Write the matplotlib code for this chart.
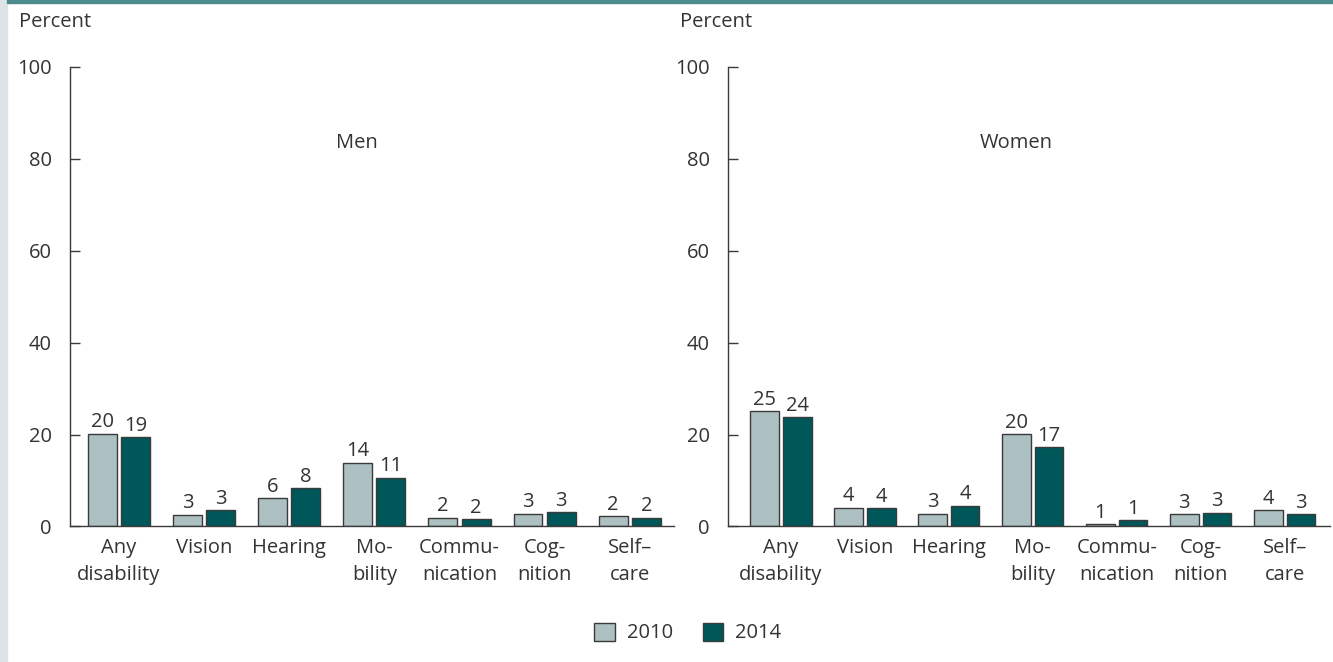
import numpy as np
import matplotlib.pyplot as plt
from matplotlib.patches import Rectangle, Patch

plt.rcParams['font.family'] = ['Open Sans', 'DejaVu Sans']

categories = ["Any\ndisability", "Vision", "Hearing", "Mo-\nbility",
              "Commu-\nnication", "Cog-\nnition", "Self\u2013\ncare"]
years = ["2010", "2014"]

men_2010 = [20.2, 2.6, 6.1, 13.9, 1.9, 2.8, 2.3]
men_2014 = [19.4, 3.5, 8.3, 10.6, 1.6, 3.1, 1.9]
men_lab_2010 = [20, 3, 6, 14, 2, 3, 2]
men_lab_2014 = [19, 3, 8, 11, 2, 3, 2]

women_2010 = [25.1, 4.1, 2.8, 20.1, 0.5, 2.7, 3.5]
women_2014 = [23.8, 4.0, 4.5, 17.3, 1.35, 3.0, 2.7]
women_lab_2010 = [25, 4, 3, 20, 1, 3, 4]
women_lab_2014 = [24, 4, 4, 17, 1, 3, 3]

c2010 = "#adc1c3"
c2014 = "#00575a"
edge = "#3a3a3a"
txt = "#333333"
fs = 14.5

fig = plt.figure(figsize=(13.33, 6.62), dpi=100)
fig.patches.append(Rectangle((0, 0), 7 / 1333, 1, transform=fig.transFigure,
                             color="#dce4e7", zorder=0))
fig.patches.append(Rectangle((7 / 1333, 1 - 3 / 662), 1, 3 / 662,
                             transform=fig.transFigure, color="#4d8b8c", zorder=0))

panels = [
    ([70 / 1333, 0.2047, 604 / 1333, 0.6941], men_2010, men_2014,
     men_lab_2010, men_lab_2014, "Men", (-0.575, 6.52), 19 / 1333),
    ([728 / 1333, 0.2047, 602 / 1333, 0.6941], women_2010, women_2014,
     women_lab_2010, women_lab_2014, "Women", (-0.63, 6.54), 680 / 1333),
]

x = np.arange(len(categories))
w = 0.34
off = 0.195

for rect, v10, v14, l10, l14, name, xl, px in panels:
    ax = fig.add_axes(rect)
    b1 = ax.bar(x - off, v10, w, color=c2010, edgecolor=edge, linewidth=1)
    b2 = ax.bar(x + off, v14, w, color=c2014, edgecolor=edge, linewidth=1)
    for bars, labs in ((b1, l10), (b2, l14)):
        for b, lab in zip(bars, labs):
            ax.annotate(str(lab), (b.get_x() + b.get_width() / 2, b.get_height()),
                        xytext=(0, 1), textcoords="offset points",
                        ha="center", va="bottom", fontsize=fs, color=txt)
    ax.set_xlim(*xl)
    ax.set_ylim(0, 100)
    ax.set_yticks([0, 20, 40, 60, 80, 100])
    ax.set_xticks(x)
    ax.set_xticklabels(categories, fontsize=fs, color=txt, linespacing=1.5)
    ax.tick_params(axis="x", length=0, pad=8)
    ax.tick_params(axis="y", direction="in", length=7.5, width=1, pad=13,
                   labelsize=fs, labelcolor=txt, color=edge)
    for s in ("top", "right"):
        ax.spines[s].set_visible(False)
    for s in ("left", "bottom"):
        ax.spines[s].set_color(edge)
        ax.spines[s].set_linewidth(1)
    ax.text(2.8, 83.5, name, ha="center", va="center", fontsize=fs, color=txt)
    fig.text(px, 1 - 22 / 662, "Percent", ha="left", va="center",
             fontsize=fs, color=txt)

handles = [Patch(facecolor=c2010, edgecolor=edge, label=years[0]),
           Patch(facecolor=c2014, edgecolor=edge, label=years[1])]
leg = fig.legend(handles=handles, loc="center", bbox_to_anchor=(0.516, 1 - 633 / 662),
                 ncol=2, frameon=False, fontsize=fs, handlelength=1.0,
                 handleheight=1.0, columnspacing=1.5, handletextpad=0.6)
for t in leg.get_texts():
    t.set_color(txt)

fig.savefig("out.png", dpi=100)
